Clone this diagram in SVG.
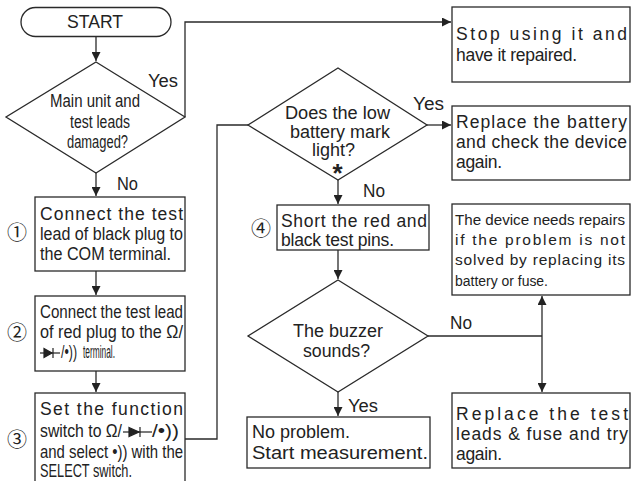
<svg xmlns="http://www.w3.org/2000/svg" width="632" height="481" viewBox="0 0 632 481">
<defs>
<style>
.bx{fill:#fff;stroke:#2a2a2a;stroke-width:1.3}
.ln{fill:none;stroke:#2a2a2a;stroke-width:1.3}
.t{font-family:'Liberation Sans Narrow','Liberation Sans',Arial,sans-serif;font-size:17.5px;fill:#222}
.s{font-family:'Liberation Sans Narrow','Liberation Sans',Arial,sans-serif;font-size:15.5px;fill:#222}
.c{font-family:'Noto Sans CJK JP','DejaVu Sans',sans-serif;font-size:20px;fill:#222;text-anchor:middle}
.ast{font-family:'Liberation Sans',Arial,sans-serif;font-size:26px;font-weight:bold;fill:#222;text-anchor:middle}
.ds{fill:#222;stroke:#222;stroke-width:1.2}
</style>
<marker id="ah" viewBox="0 0 10 10" refX="10" refY="5" markerWidth="9" markerHeight="9" markerUnits="userSpaceOnUse" orient="auto">
<path d="M0,0 L10,5 L0,10 z" fill="#222"/>
</marker>
</defs>
<rect width="632" height="481" fill="#fff"/>

<g id="connectors">
<path class="ln" d="M96,37 V61" marker-end="url(#ah)"/>
<path class="ln" d="M185,117 V22 H451" marker-end="url(#ah)"/>
<path class="ln" d="M96,173 V196" marker-end="url(#ah)"/>
<path class="ln" d="M96,271 V295" marker-end="url(#ah)"/>
<path class="ln" d="M96,371 V392" marker-end="url(#ah)"/>
<path class="ln" d="M185,439 H217 V125 H248"/>
<path class="ln" d="M427,125 H451" marker-end="url(#ah)"/>
<path class="ln" d="M338,180 V204" marker-end="url(#ah)"/>
<path class="ln" d="M338,250 V279" marker-end="url(#ah)"/>
<path class="ln" d="M428,336 H542"/>
<path class="ln" d="M542,336 V296" marker-end="url(#ah)"/>
<path class="ln" d="M542,336 V392" marker-end="url(#ah)"/>
<path class="ln" d="M338,392 V416" marker-end="url(#ah)"/>
<text class="t" x="148" y="87" textLength="30" lengthAdjust="spacingAndGlyphs">Yes</text>
<text class="t" x="117" y="190" textLength="21" lengthAdjust="spacingAndGlyphs">No</text>
<text class="t" x="413" y="110" textLength="31" lengthAdjust="spacingAndGlyphs">Yes</text>
<text class="t" x="363" y="197" textLength="22" lengthAdjust="spacingAndGlyphs">No</text>
<text class="t" x="450" y="329" textLength="22" lengthAdjust="spacingAndGlyphs">No</text>
<text class="t" x="348" y="412" textLength="30" lengthAdjust="spacingAndGlyphs">Yes</text>
</g>

<g id="start">
<rect class="bx" x="21" y="7.5" width="150" height="29" rx="14.5"/>
<text class="t" x="67" y="28" textLength="56" lengthAdjust="spacingAndGlyphs">START</text>
</g>

<g id="damaged">
<polygon class="bx" points="96,62 185,117 96,173 6,117"/>
<text class="t" x="50" y="107" textLength="90" lengthAdjust="spacingAndGlyphs">Main unit and</text>
<text class="t" x="70" y="128" textLength="60" lengthAdjust="spacingAndGlyphs">test leads</text>
<text class="t" x="67" y="148" textLength="61" lengthAdjust="spacingAndGlyphs">damaged?</text>
</g>

<g id="step1">
<text class="c" x="17" y="240">①</text>
<rect class="bx" x="35" y="197" width="150" height="74"/>
<text class="t" x="40" y="220" textLength="143" lengthAdjust="spacing">Connect the test</text>
<text class="t" x="40" y="240" textLength="143" lengthAdjust="spacingAndGlyphs">lead of black plug to</text>
<text class="t" x="40" y="260" textLength="131" lengthAdjust="spacingAndGlyphs">the COM terminal.</text>
</g>

<g id="step2">
<text class="c" x="17" y="340">②</text>
<rect class="bx" x="35" y="296" width="150" height="75"/>
<text class="t" x="40" y="318" textLength="143" lengthAdjust="spacingAndGlyphs">Connect the test lead</text>
<text class="t" x="40" y="338" textLength="143" lengthAdjust="spacingAndGlyphs">of red plug to the Ω/</text>
<g class="ds"><line x1="40" y1="353" x2="60" y2="353"/><polygon points="44,348.5 52,353 44,357.5"/><line x1="53" y1="348" x2="53" y2="358"/></g>
<text class="t" x="61" y="358" textLength="16" lengthAdjust="spacingAndGlyphs">/•))</text>
<text class="t" x="83" y="358" textLength="32" lengthAdjust="spacingAndGlyphs">terminal.</text>
</g>

<g id="step3">
<text class="c" x="17" y="447">③</text>
<rect class="bx" x="35" y="393" width="150" height="95"/>
<text class="t" x="40" y="415" textLength="143" lengthAdjust="spacing">Set the function</text>
<text class="t" x="40" y="437" textLength="82" lengthAdjust="spacingAndGlyphs">switch to Ω/</text>
<g class="ds"><line x1="123" y1="432" x2="152" y2="432"/><polygon points="129,427.5 139,432 129,436.5"/><line x1="140" y1="427" x2="140" y2="437"/></g>
<text class="t" x="152" y="437" textLength="27" lengthAdjust="spacingAndGlyphs">/•))</text>
<text class="t" x="40" y="458" textLength="143" lengthAdjust="spacingAndGlyphs">and select •)) with the</text>
<text class="t" x="40" y="477" textLength="92" lengthAdjust="spacingAndGlyphs">SELECT switch.</text>
</g>

<g id="repair">
<rect class="bx" x="452" y="7" width="178" height="75"/>
<text class="t" x="456" y="40" textLength="171" lengthAdjust="spacing">Stop using it and</text>
<text class="t" x="456" y="61" textLength="121" lengthAdjust="spacing">have it repaired.</text>
</g>

<g id="lowbattery">
<polygon class="bx" points="338,68 427,125 338,180 248,125"/>
<text class="t" x="285" y="119" textLength="105" lengthAdjust="spacingAndGlyphs">Does the low</text>
<text class="t" x="290" y="138" textLength="100" lengthAdjust="spacingAndGlyphs">battery mark</text>
<text class="t" x="312" y="156" textLength="43" lengthAdjust="spacingAndGlyphs">light?</text>
<text class="ast" x="337.5" y="182">*</text>
</g>

<g id="battery">
<rect class="bx" x="452" y="106" width="178" height="74"/>
<text class="t" x="456" y="128" textLength="171" lengthAdjust="spacing">Replace the battery</text>
<text class="t" x="456" y="148" textLength="171" lengthAdjust="spacing">and check the device</text>
<text class="t" x="456" y="168" textLength="46" lengthAdjust="spacing">again.</text>
</g>

<g id="step4">
<text class="c" x="261" y="236">④</text>
<rect class="bx" x="277" y="205" width="152" height="45"/>
<text class="t" x="281" y="227" textLength="146" lengthAdjust="spacing">Short the red and</text>
<text class="t" x="281" y="246" textLength="113" lengthAdjust="spacing">black test pins.</text>
</g>

<g id="buzzer">
<polygon class="bx" points="338,280 428,336 338,392 248,336"/>
<text class="t" x="293" y="337" textLength="90" lengthAdjust="spacingAndGlyphs">The buzzer</text>
<text class="t" x="303" y="357" textLength="67" lengthAdjust="spacingAndGlyphs">sounds?</text>
</g>

<g id="noproblem">
<rect class="bx" x="247" y="417" width="183" height="51"/>
<text class="t" x="252" y="438" textLength="98" lengthAdjust="spacingAndGlyphs">No problem.</text>
<text class="t" x="252" y="459" textLength="176" lengthAdjust="spacingAndGlyphs">Start measurement.</text>
</g>

<g id="needsrepair">
<rect class="bx" x="452" y="204" width="178" height="91"/>
<text class="s" x="455" y="225" textLength="170" lengthAdjust="spacingAndGlyphs">The device needs repairs</text>
<text class="s" x="455" y="245" textLength="170" lengthAdjust="spacing">if the problem is not</text>
<text class="s" x="455" y="265" textLength="170" lengthAdjust="spacing">solved by replacing its</text>
<text class="s" x="455" y="286" textLength="93" lengthAdjust="spacingAndGlyphs">battery or fuse.</text>
</g>

<g id="replaceleads">
<rect class="bx" x="452" y="393" width="178" height="75"/>
<text class="t" x="456" y="420" textLength="172" lengthAdjust="spacing">Replace the test</text>
<text class="t" x="456" y="440" textLength="172" lengthAdjust="spacing">leads &amp; fuse and try</text>
<text class="t" x="456" y="460" textLength="46" lengthAdjust="spacing">again.</text>
</g>
</svg>
